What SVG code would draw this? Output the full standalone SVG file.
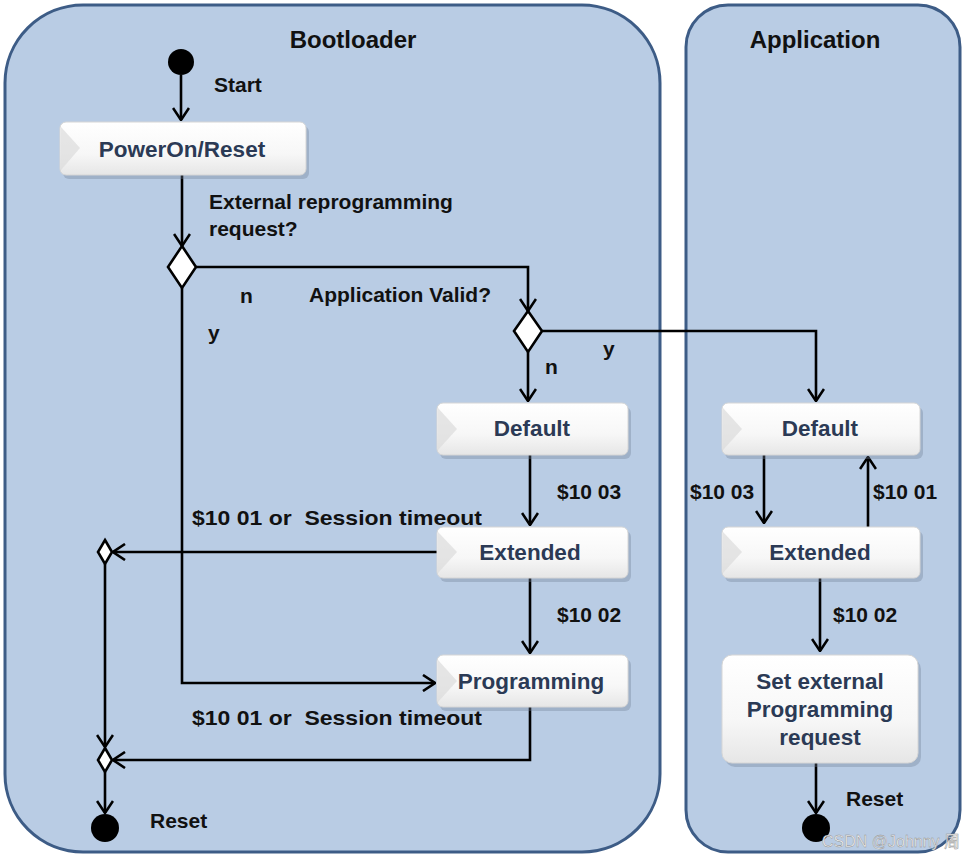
<svg xmlns="http://www.w3.org/2000/svg" width="966" height="858" viewBox="0 0 966 858">
<style>
.container{fill:#b9cce4;stroke:#3d5c86;stroke-width:3}
.title{font-family:"Liberation Sans",Arial,sans-serif;font-weight:bold;font-size:24px;fill:#111;text-anchor:middle}
.lbl{font-family:"Liberation Sans",Arial,sans-serif;font-weight:bold;font-size:21px;fill:#111}
.ntxt{font-family:"Liberation Sans",Arial,sans-serif;font-weight:bold;font-size:22.5px;fill:#2b3a55;text-anchor:middle}
.box{fill:url(#boxg);stroke:#d6d6d6;stroke-width:1}
.shadow{fill:#6f7f95;opacity:0.35}
.bevel{fill:#dcdcdc;opacity:0.7}
.conn{fill:none;stroke:#000;stroke-width:2.6}
.dia{fill:#fff;stroke:#000;stroke-width:2.6}
.dot{fill:#000}
</style>
<defs>
<linearGradient id="boxg" x1="0" y1="0" x2="0" y2="1">
<stop offset="0" stop-color="#ffffff"/>
<stop offset="0.6" stop-color="#f7f7f7"/>
<stop offset="1" stop-color="#e6e6e6"/>
</linearGradient>
<marker id="arr" viewBox="0 0 14 18" refX="13" refY="9" markerWidth="14" markerHeight="18" markerUnits="userSpaceOnUse" orient="auto">
<path d="M1,1 L13,9 L1,17" fill="none" stroke="#000" stroke-width="2.6"/>
</marker>
</defs>
<rect width="966" height="858" fill="#ffffff"/>
<g id="bootloader">
<rect class="container" x="5" y="5" width="655" height="847" rx="78" ry="78"/>
<text class="title" x="353" y="48">Bootloader</text>
</g>
<g id="application">
<rect class="container" x="686" y="5" width="274" height="847" rx="42" ry="42"/>
<text class="title" x="815" y="48">Application</text>
</g>
<g id="connectors">
<path class="conn" d="M181,75 V120" marker-end="url(#arr)"/>
<path class="conn" d="M182,175 V246" marker-end="url(#arr)"/>
<path class="conn" d="M196,267 H528 V311" marker-end="url(#arr)"/>
<path class="conn" d="M542,331 H816 V401" marker-end="url(#arr)"/>
<path class="conn" d="M528,352 V401" marker-end="url(#arr)"/>
<path class="conn" d="M182,288 V683 H435" marker-end="url(#arr)"/>
<path class="conn" d="M530,455 V525" marker-end="url(#arr)"/>
<path class="conn" d="M530,578 V653" marker-end="url(#arr)"/>
<path class="conn" d="M437,552 H113" marker-end="url(#arr)"/>
<path class="conn" d="M105,564 V747" marker-end="url(#arr)"/>
<path class="conn" d="M530,707 V760 H113" marker-end="url(#arr)"/>
<path class="conn" d="M105,772 V813" marker-end="url(#arr)"/>
<path class="conn" d="M764,455 V523" marker-end="url(#arr)"/>
<path class="conn" d="M868,527 V457" marker-end="url(#arr)"/>
<path class="conn" d="M820,578 V651" marker-end="url(#arr)"/>
<path class="conn" d="M816,763 V813" marker-end="url(#arr)"/>
</g>
<g id="start">
<circle class="dot" cx="181" cy="62" r="13"/>
<text class="lbl" x="214" y="92">Start</text>
</g>
<g id="poweron">
<rect class="shadow" x="63" y="126" width="246" height="53" rx="6"/>
<rect class="box" x="60" y="122" width="246" height="53" rx="6"/>
<path class="bevel" d="M61,127 L80,148 L61,170 Z"/>
<text class="ntxt" x="182" y="157">PowerOn/Reset</text>
</g>
<g id="decision1">
<polygon class="dia" points="182,246 196,267 182,288 168,267"/>
<text class="lbl" x="209" y="209">External reprogramming</text>
<text class="lbl" x="209" y="236">request?</text>
<text class="lbl" x="240" y="303">n</text>
<text class="lbl" x="208" y="340">y</text>
</g>
<g id="decision2">
<polygon class="dia" points="528,311 542,331 528,352 514,331"/>
<text class="lbl" x="309" y="302">Application Valid?</text>
<text class="lbl" x="545" y="374">n</text>
<text class="lbl" x="603" y="356">y</text>
</g>
<g id="boot-default">
<rect class="shadow" x="440" y="407" width="191" height="52" rx="6"/>
<rect class="box" x="437" y="403" width="191" height="52" rx="6"/>
<path class="bevel" d="M438,408 L457,429 L438,450 Z"/>
<text class="ntxt" x="532" y="436">Default</text>
</g>
<g id="boot-extended">
<rect class="shadow" x="440" y="531" width="191" height="51" rx="6"/>
<rect class="box" x="437" y="527" width="191" height="51" rx="6"/>
<path class="bevel" d="M438,532 L457,552 L438,573 Z"/>
<text class="ntxt" x="530" y="560">Extended</text>
<text class="lbl" x="557" y="499">$10 03</text>
</g>
<g id="boot-programming">
<rect class="shadow" x="440" y="659" width="191" height="52" rx="6"/>
<rect class="box" x="437" y="655" width="191" height="52" rx="6"/>
<path class="bevel" d="M438,660 L457,681 L438,702 Z"/>
<text class="ntxt" x="531" y="689">Programming</text>
<text class="lbl" x="557" y="622">$10 02</text>
</g>
<g id="merge1">
<polygon class="dia" points="105,540 112,552 105,564 98,552"/>
<text class="lbl" x="192" y="525" xml:space="preserve" font-size="22.5" textLength="290" lengthAdjust="spacingAndGlyphs">$10 01 or  Session timeout</text>
</g>
<g id="merge2">
<polygon class="dia" points="105,748 112,760 105,772 98,760"/>
<text class="lbl" x="192" y="725" xml:space="preserve" font-size="22.5" textLength="290" lengthAdjust="spacingAndGlyphs">$10 01 or  Session timeout</text>
</g>
<g id="boot-reset">
<circle class="dot" cx="105" cy="828" r="14"/>
<text class="lbl" x="150" y="828">Reset</text>
</g>
<g id="app-default">
<rect class="shadow" x="725" y="407" width="198" height="52" rx="6"/>
<rect class="box" x="722" y="403" width="198" height="52" rx="6"/>
<path class="bevel" d="M723,408 L742,429 L723,450 Z"/>
<text class="ntxt" x="820" y="436">Default</text>
</g>
<g id="app-extended">
<rect class="shadow" x="725" y="531" width="198" height="51" rx="6"/>
<rect class="box" x="722" y="527" width="198" height="51" rx="6"/>
<path class="bevel" d="M723,532 L742,552 L723,573 Z"/>
<text class="ntxt" x="820" y="560">Extended</text>
<text class="lbl" x="690" y="499">$10 03</text>
<text class="lbl" x="873" y="499">$10 01</text>
</g>
<g id="app-setrequest">
<rect class="shadow" x="725" y="659" width="196" height="108" rx="10"/>
<rect class="box" x="722" y="655" width="196" height="108" rx="10"/>
<text class="ntxt" x="820" y="689">Set external</text>
<text class="ntxt" x="820" y="717">Programming</text>
<text class="ntxt" x="820" y="745">request</text>
<text class="lbl" x="833" y="622">$10 02</text>
</g>
<g id="app-reset">
<circle class="dot" cx="816" cy="828" r="14"/>
<text class="lbl" x="846" y="806">Reset</text>
</g>
<text x="822" y="847" font-family="'Liberation Sans','Noto Sans CJK SC',sans-serif" font-size="16" fill="#f2f2f2" stroke="#8a8a8a" stroke-width="0.4">CSDN @Johnny 周</text>
</svg>
